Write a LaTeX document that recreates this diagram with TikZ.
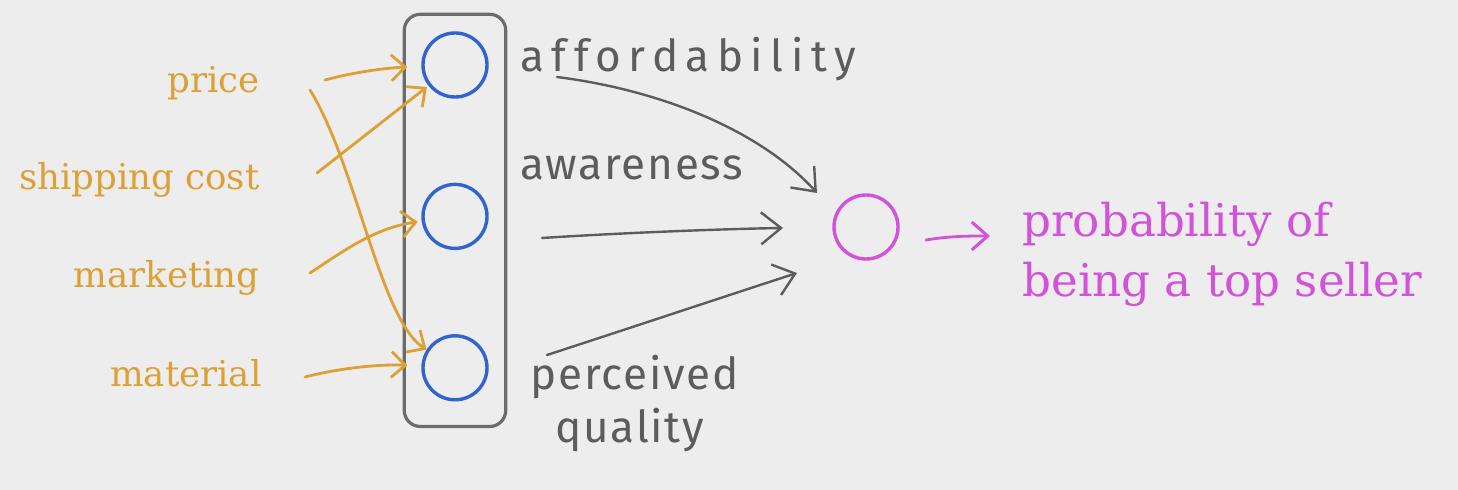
\documentclass[tikz,border=0pt]{standalone}
\usepackage{fontspec}
\newfontfamily\handfont[LetterSpace=4]{Fira Sans}
\newfontfamily\handfontwide[LetterSpace=17]{Fira Sans}
\newfontfamily\labelfont{DejaVu Serif}
\usepackage{tikz}
\usetikzlibrary{positioning, arrows.meta, calc, fit}
\definecolor{bggray}{RGB}{237,237,237}
\definecolor{inorange}{RGB}{222,160,52}
\definecolor{unitblue}{RGB}{50,100,205}
\definecolor{outmagenta}{RGB}{210,82,218}
\definecolor{pengray}{RGB}{92,92,92}
\definecolor{boxgray}{RGB}{108,108,108}

\begin{document}
\begin{tikzpicture}[
    x=0.5pt, y=-0.5pt,
    unit/.style={draw=unitblue, line width=1.7pt, circle, minimum size=32pt, inner sep=0pt},
    outunit/.style={draw=outmagenta, line width=1.7pt, circle, minimum size=32pt, inner sep=0pt},
    layerbox/.style={draw=boxgray, line width=1.6pt, rectangle, rounded corners=8pt, inner xsep=8.5pt, inner ysep=10.5pt},
    inlabel/.style={text=inorange, font=\labelfont\fontsize{17.8}{22}\selectfont, anchor=base east, inner sep=0pt},
    featlabel/.style={text=pengray, font=\handfont\fontsize{22}{26}\selectfont, anchor=base west, inner sep=0pt},
    outlabel/.style={text=outmagenta, font=\labelfont\fontsize{22.6}{27}\selectfont, anchor=base west, inner sep=0pt},
    inarrow/.style={draw=inorange, line width=1.4pt, line cap=round, -{Straight Barb[length=7pt, width=13pt, line width=1.4pt]}},
    featarrow/.style={draw=pengray, line width=1.2pt, line cap=round, -{Straight Barb[length=10pt, width=16pt, line width=1.2pt]}},
    outarrow/.style={draw=outmagenta, line width=1.4pt, line cap=round, -{Straight Barb[length=8pt, width=14pt, line width=1.5pt]}}
]

% Hintergrund und Rahmen
\fill[bggray] (0,0) rectangle (1458,490);
\useasboundingbox (0,0) rectangle (1458,490);

% --- KNOTEN ---
% versteckte Schicht
\node[unit] (h1) at (455,65) {};
\node[unit, below=42pt of h1] (h2) {};
\node[unit, below=42pt of h2] (h3) {};
\node[layerbox, fit=(h1)(h2)(h3), yshift=-2pt] (layer) {};

% Ausgabe
\node[outunit] (o) at (866,227) {};
\node[outlabel] (prob1) at (1022,237) {probability of};
\node[outlabel] (prob2) at (1022,297) {being a top seller};

% Eingaben
\node[inlabel] (price) at (260,93) {price};
\node[inlabel] (ship) at (260,190) {shipping cost};
\node[inlabel] (mkt) at (260,288) {marketing};
\node[inlabel] (mat) at (262,387) {material};

% Merkmale
\node[featlabel, font=\handfontwide\fontsize{22}{26}\selectfont] (aff) at (520,72) {affordability};
\node[featlabel] (aware) at (520,180) {awareness};
\node[featlabel] (perc) at (530,390) {perceived};
\node[featlabel] (qual) at (555,443) {quality};

% Enden der Pfeile
\coordinate (price-t1) at (325,80);
\coordinate (price-t2) at (310,90);
\coordinate (ship-t) at (317,173);
\coordinate (mkt-t) at (310,273);
\coordinate (mat-t) at (305,377);
\coordinate (aff-t) at (557,77);
\coordinate (aff-h) at (817,193);
\coordinate (aware-t) at (542,238);
\coordinate (aware-h) at (783,228);
\coordinate (perc-t) at (547,355);
\coordinate (perc-h) at (797,273);
\coordinate (o-t) at (926,240);
\coordinate (o-h) at (990,236);

% --- KANTEN ---
% 1. Eingaben -> versteckte Schicht
\draw[inarrow, shorten >=7pt] (price-t1) .. controls (355,72) and (385,68) .. (h1);
\draw[inarrow, shorten >=1pt] (ship-t) -- (h1);
\draw[inarrow] (price-t2) .. controls (356,164) and (380,320) .. (h3);
\draw[inarrow, shorten >=2pt] (mkt-t) .. controls (345,250) and (375,228) .. (h2);
\draw[inarrow, shorten >=7pt] (mat-t) .. controls (340,368) and (380,364) .. (h3);

% 2. Merkmale -> Ausgabe
\draw[featarrow] (aff-t) .. controls (660,90) and (760,130) .. (aff-h);
\draw[featarrow] (aware-t) .. controls (620,233) and (720,229) .. (aware-h);
\draw[featarrow] (perc-t) .. controls (630,328) and (720,298) .. (perc-h);

% 3. Ausgabe -> Wahrscheinlichkeit
\draw[outarrow] (o-t) .. controls (950,236) and (970,236) .. (o-h);

\end{tikzpicture}
\end{document}
